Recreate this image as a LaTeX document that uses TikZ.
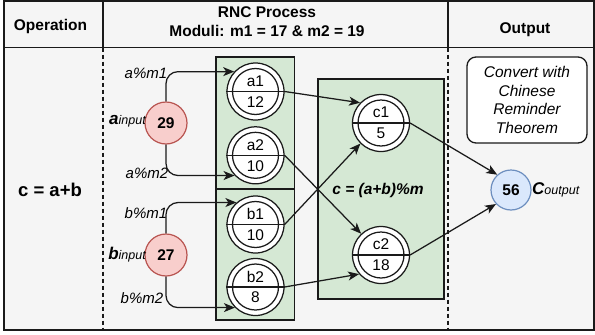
\documentclass[tikz,border=0pt]{standalone}
\usepackage{fontspec}
\setmainfont{Liberation Sans}
\usetikzlibrary{arrows.meta,calc}
\definecolor{bgc}{HTML}{F5F5F5}
\definecolor{grn}{HTML}{D5E8D4}
\definecolor{redf}{HTML}{F8CECC}
\definecolor{reds}{HTML}{B85450}
\definecolor{bluef}{HTML}{DAE8FC}
\definecolor{blues}{HTML}{6C8EBF}
\definecolor{ink}{HTML}{1A1A1A}
\newcommand{\dcircle}[4]{%
  \node[dcirc] (#1) at (#2) {};
  \draw[incirc] (#1.center) circle (23pt);
  \draw[incirc] (#1.west) -- (#1.east);
  \node[txt] at ($(#1.center)+(0,-10.5)$) {#3};
  \node[txt] at ($(#1.center)+(0,10.5)$) {#4};
}
\begin{document}
\begin{tikzpicture}[x=1pt,y=-1pt,
  txt/.style={font=\fontsize{15.5}{18.6}\selectfont, inner sep=0pt, align=center},
  btxt/.style={txt, font=\fontsize{15.5}{18.6}\selectfont\bfseries},
  lbl/.style={txt, font=\fontsize{15}{18}\selectfont\itshape},
  frame/.style={draw=ink, line width=1.6pt},
  divider/.style={draw=ink, line width=1.3pt},
  dashdiv/.style={draw=ink, line width=1.3pt, dash pattern=on 4pt off 3pt},
  greenbox/.style={draw=ink, fill=grn, line width=1.3pt},
  dcirc/.style={circle, draw=ink, fill=white, line width=1.25pt, minimum size=57pt, inner sep=0pt},
  incirc/.style={draw=ink, line width=1.25pt},
  inputc/.style={circle, draw=reds, fill=redf, line width=1.2pt, minimum size=42pt, inner sep=0pt, font=\fontsize{15.5}{18.6}\selectfont\bfseries},
  outc/.style={circle, draw=blues, fill=bluef, line width=1.2pt, minimum size=40pt, inner sep=0pt, font=\fontsize{15.5}{18.6}\selectfont\bfseries},
  conn/.style={draw=ink, line width=1.25pt, -{Stealth[length=11pt,width=9pt,inset=3pt]}},
  crtbox/.style={draw=ink, fill=white, rounded corners=9pt, line width=1.3pt, minimum width=120pt, minimum height=86pt, align=center, inner sep=0pt, font=\fontsize{15.5}{18.8}\selectfont\itshape}
]
\useasboundingbox (0,0) rectangle (595,335);
% table
\fill[bgc] (4,1) rectangle (594,330);
\draw[frame] (4,1) rectangle (594,330);
\draw[divider] (4,47.5) -- (594,47.5);
\draw[divider] (103,1) -- (103,47.5);
\draw[divider] (448,1) -- (448,47.5);
\draw[dashdiv] (103,47.5) -- (103,330);
\draw[dashdiv] (448,47.5) -- (448,330);
\node[btxt] (hop) at (50.5,26) {Operation};
\node[btxt] (hrnc) at (267,21.5) {RNC Process\\Moduli: m1 = 17 \& m2 = 19};
\node[btxt] (hout) at (525,30) {Output};
\node[txt, font=\fontsize{18.5}{22}\selectfont\bfseries] (op) at (50,190) {c = a+b};
% green boxes
\draw[greenbox] (216,57) rectangle (294.5,320);
\draw[greenbox] (216,189) -- (294.5,189);
\draw[greenbox] (318,79) rectangle (444,299);
\node[txt, font=\fontsize{15.5}{18.6}\selectfont\bfseries\itshape] (form) at (378,190) {c = (a+b)\%m};
% inputs
\node[inputc] (ain) at (166,123) {29};
\node[inputc] (bin) at (166,255) {27};
\node[txt, anchor=east, font=\itshape] (ainl) at (146,121) {{\fontsize{17}{17}\selectfont\bfseries a}{\fontsize{12.5}{12.5}\selectfont input}};
\node[txt, anchor=east, font=\itshape] (binl) at (146,255) {{\fontsize{17}{17}\selectfont\bfseries b}{\fontsize{12.5}{12.5}\selectfont input}};
\node[lbl] (l1) at (146,73) {a\%m1};
\node[lbl] (l2) at (147,173) {a\%m2};
\node[lbl] (l3) at (146,213) {b\%m1};
\node[lbl] (l4) at (142,298) {b\%m2};
% residues
\dcircle{a1}{255.5,91.5}{a1}{12}
\dcircle{a2}{255.5,155.3}{a2}{10}
\dcircle{b1}{255.5,224.5}{b1}{10}
\dcircle{b2}{255.5,287}{b2}{8}
\dcircle{c1}{381,123}{c1}{5}
\dcircle{c2}{381,255}{c2}{18}
% output
\node[crtbox] (crt) at (527,100) {Convert with\\Chinese\\Reminder\\Theorem};
\node[outc] (out) at (511,190) {56};
\node[txt, anchor=west, font=\itshape] (outl) at (532,190) {{\fontsize{17}{17}\selectfont\bfseries C}{\fontsize{12.5}{12.5}\selectfont output}};
% connectors
\draw[conn, rounded corners=12pt] (ain.north) |- (a1.137);
\draw[conn, rounded corners=12pt] (ain.south) |- (a2.224);
\draw[conn, rounded corners=12pt] (bin.north) |- (b1.131);
\draw[conn, rounded corners=12pt] (bin.south) |- (b2.225);
\draw[conn] (a1.east) -- (c1.136);
\draw[conn] (a2.east) -- (c2.133);
\draw[conn] (b1.east) -- (c1.225);
\draw[conn] (b2.east) -- (c2.221);
\draw[conn] (c1.east) -- (out.132);
\draw[conn] (c2.east) -- (out.223);
\end{tikzpicture}
\end{document}
